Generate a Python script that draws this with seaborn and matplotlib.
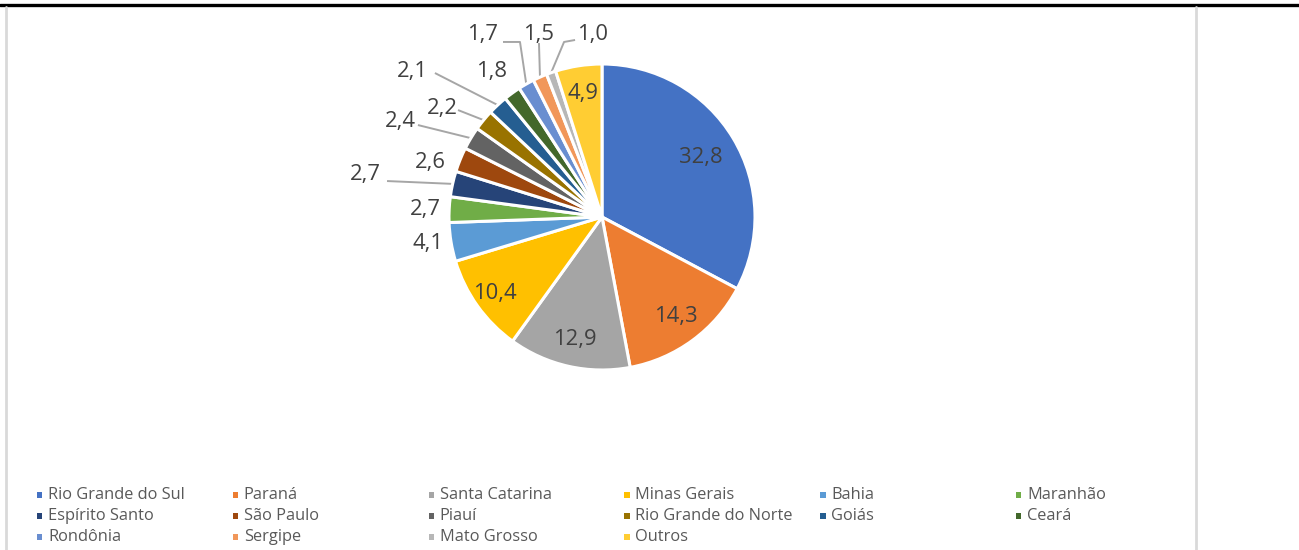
import numpy as np
import matplotlib
matplotlib.use("Agg")
import matplotlib.pyplot as plt
from matplotlib.patches import Rectangle
import seaborn as sns

# ---- data ----
states = ["Rio Grande do Sul", "Paraná", "Santa Catarina", "Minas Gerais", "Bahia",
          "Maranhão", "Espírito Santo", "São Paulo", "Piauí", "Rio Grande do Norte",
          "Goiás", "Ceará", "Rondônia", "Sergipe", "Mato Grosso", "Outros"]
shares = [32.8, 14.3, 12.9, 10.4, 4.1, 2.7, 2.7, 2.6, 2.4, 2.2, 2.1, 1.8, 1.7, 1.5, 1.0, 4.9]
colors = ["#4472C4", "#ED7D31", "#A5A5A5", "#FFC000", "#5B9BD5", "#70AD47",
          "#264478", "#9E480E", "#636363", "#997300", "#255E91", "#43682B",
          "#698ED0", "#F1975A", "#B7B7B7", "#FFCD33"]
labels_txt = [f"{v:.1f}".replace(".", ",") for v in shares]

sns.set_theme(style="white")
plt.rcParams["font.family"] = ["Open Sans", "DejaVu Sans"]

W, H = 1299, 550
fig = plt.figure(figsize=(W / 100, H / 100), dpi=100)

# pie axes: center at pixel (602, 217), radius 153 px
cx, cy, R = 602, 217, 153
xr, yr = 1.7, 1.4
ax = fig.add_axes([(cx - xr * R) / W, (H - cy - yr * R) / H, 2 * xr * R / W, 2 * yr * R / H])

wedges, _ = ax.pie(shares, colors=colors, startangle=90, counterclock=False, radius=1.0,
                   wedgeprops=dict(edgecolor="white", linewidth=2.2))
ax.set_aspect("auto")
ax.set_xlim(-xr, xr)
ax.set_ylim(-yr, yr)
ax.axis("off")

tot = sum(shares)
cum = np.cumsum([0] + shares[:-1])
mid = np.deg2rad(90 - 360 * (cum + np.array(shares) / 2) / tot)

# label layout (positions in radius units)
inside_r = {0: 0.75, 1: 0.81, 2: 0.82, 3: 0.86, 15: 0.82}
outside_pos = {4: (-1.137, -0.176), 5: (-1.157, 0.052), 6: (-1.549, 0.275),
               7: (-1.124, 0.353), 8: (-1.320, 0.621), 9: (-1.046, 0.712),
               10: (-1.242, 0.948), 11: (-0.719, 0.948), 12: (-0.784, 1.190),
               13: (-0.418, 1.190), 14: (-0.065, 1.190)}
leaders = {6: [(-1.405, 0.235)], 8: [(-1.203, 0.601)], 9: [(-0.941, 0.699)],
           10: [(-1.092, 0.941)], 12: [(-0.647, 1.144), (-0.536, 1.144)],
           13: [(-0.412, 1.137)], 14: [(-0.176, 1.157), (-0.248, 1.144)]}

tc = "#404040"
for i, t in enumerate(labels_txt):
    if i in inside_r:
        r = inside_r[i]
        x, y = r * np.cos(mid[i]), r * np.sin(mid[i])
    else:
        x, y = outside_pos[i]
    ax.text(x, y, t, ha="center", va="center", fontsize=15.8, color=tc)
    if i in leaders:
        pts = leaders[i] + [(1.0 * np.cos(mid[i]), 1.0 * np.sin(mid[i]))]
        xs, ys = zip(*pts)
        ax.plot(xs, ys, color="#A6A6A6", lw=1.4, solid_capstyle="butt", zorder=0)

# legend (Excel style, equal column widths)
lax = fig.add_axes([0, 0, 1, 1])
lax.set_xlim(0, W)
lax.set_ylim(H, 0)
lax.axis("off")
col_x0, col_dx = 37, 195.8
row_y0, row_dy = 495, 21
for i, (name, c) in enumerate(zip(states, colors)):
    col, row = i % 6, i // 6
    x = col_x0 + col * col_dx
    y = row_y0 + row * row_dy
    lax.add_patch(Rectangle((x, y - 3), 5.5, 5.5, color=c, lw=0))
    lax.text(x + 11, y, name, ha="left", va="center", fontsize=11.8, color="#595959")

# frame lines
lax.plot([0, W], [5, 5], color="black", lw=2.4)
lax.plot([6, 6], [7, H], color="#D9D9D9", lw=2)
lax.plot([1196, 1196], [7, H], color="#D9D9D9", lw=2)

fig.savefig("out.png", dpi=100, facecolor="white")
